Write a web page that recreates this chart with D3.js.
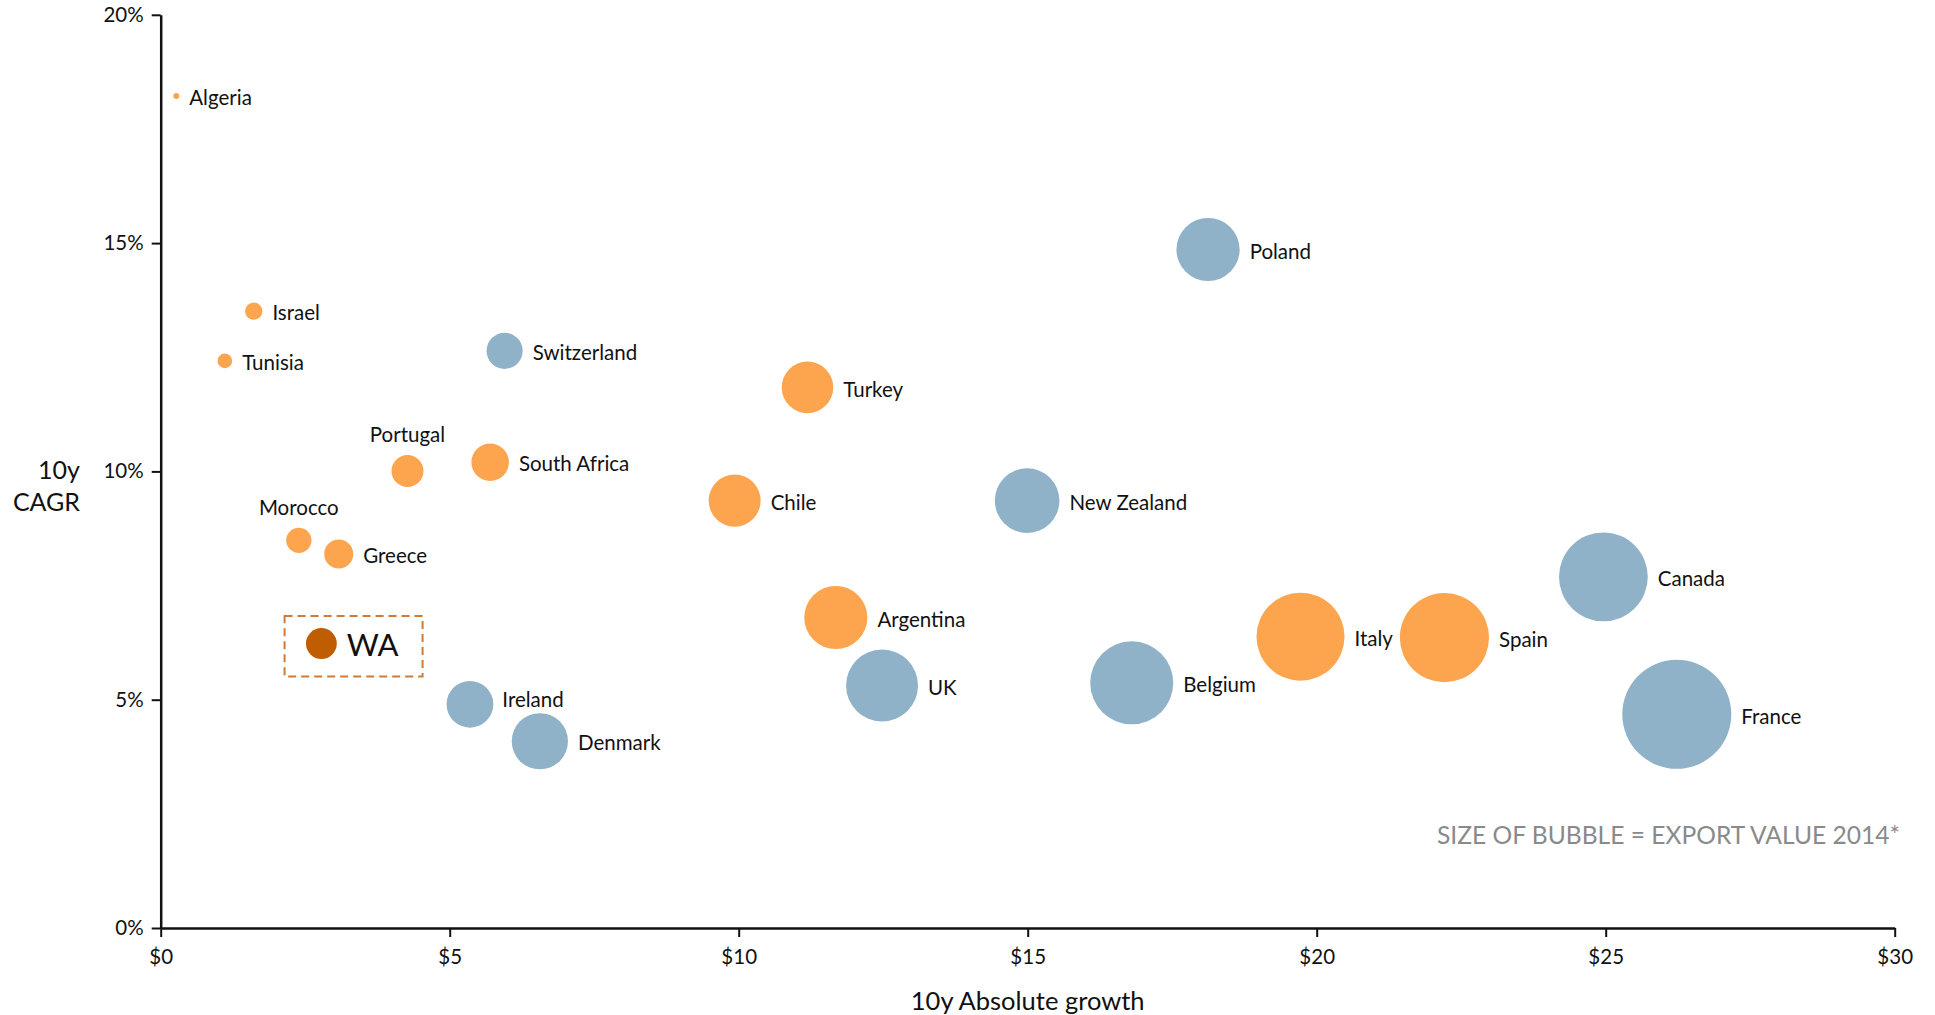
<!DOCTYPE html>
<html>
<head>
<meta charset="utf-8">
<script src="https://cdn.jsdelivr.net/npm/d3@7"></script>
<style>
  html, body { margin: 0; padding: 0; background: #fff; }
  svg { display: block; font-family: Lato, "Open Sans", sans-serif; }
</style>
</head>
<body>
<svg id="chart" width="1935" height="1015"></svg>
<script>
// ---------------- data ----------------
const countries = ["Algeria","Israel","Tunisia","Switzerland","Portugal","South Africa","Morocco","Greece","WA","Ireland","Denmark","Turkey","Chile","New Zealand","Argentina","UK","Belgium","Poland","Italy","Spain","Canada","France"];
const absGrowth = [0.27,1.61,1.11,5.95,4.27,5.70,2.39,3.08,2.78,5.35,6.56,11.19,9.93,14.99,11.68,12.48,16.80,18.12,19.72,22.21,24.96,26.23];
const cagr      = [18.22,13.51,12.42,12.64,10.01,10.20,8.49,8.19,6.23,4.90,4.09,11.84,9.36,9.36,6.80,5.31,5.37,14.86,6.38,6.36,7.69,4.68];
const exportValue = [0.03,0.25,0.18,1.10,0.86,1.18,0.54,0.71,0.80,1.84,2.66,2.24,2.28,3.51,3.36,4.36,5.80,3.36,6.52,6.70,6.64,10.0];
const group = ["old","old","old","new","old","old","old","old","wa","new","new","old","old","new","old","new","new","new","old","old","new","new"];
const labelSide = ["right","right","right","right","top","right","top","right","right","rightUp","right","right","right","right","right","right","right","right","right","right","right","right"];
const xTicks = [0,5,10,15,20,25,30];
const yTicks = [0,5,10,15,20];
const xTitle = "10y Absolute growth";
const yTitle = ["10y","CAGR"];
const legendText = "SIZE OF BUBBLE = EXPORT VALUE 2014*";

const colors = { old: "#fda44e", new: "#8fb2c9", wa: "#be5d02" };

// ---------------- layout ----------------
const svg = d3.select("#chart");
const x = d3.scaleLinear().domain([0,30]).range([160.7,1894.7]);
const y = d3.scaleLinear().domain([0,20]).range([928,14.8]);
const r = d3.scaleSqrt().domain([0,10]).range([0,54.5]);

const data = countries.map((c,i)=>({name:c,x:absGrowth[i],y:cagr[i],v:exportValue[i],g:group[i],side:labelSide[i]}));

// axes
const xAxis = d3.axisBottom(x).tickValues(xTicks).tickSize(9).tickSizeOuter(0).tickPadding(12)
  .tickFormat(d=>"$"+d);
const yAxis = d3.axisLeft(y).tickValues(yTicks).tickSize(9).tickSizeOuter(0).tickPadding(8)
  .tickFormat(d=>d+"%");

const gx = svg.append("g").attr("transform",`translate(0,${y(0)})`).call(xAxis);
const gy = svg.append("g").attr("transform",`translate(${x(0)},0)`).call(yAxis);
[gx,gy].forEach(g=>{
  g.select(".domain").attr("stroke","#111").attr("stroke-width",2.5);
  g.selectAll(".tick line").attr("stroke","#111").attr("stroke-width",2);
  g.selectAll(".tick text").attr("fill","#111").style("font-size","20.5px").style("font-family","Lato, sans-serif");
});

// axis titles
svg.append("text").attr("x",(x(0)+x(30))/2).attr("y",1010)
  .attr("text-anchor","middle").style("font-size","25.5px").attr("fill","#111").text(xTitle);
svg.append("text").attr("text-anchor","end").style("font-size","25px").attr("fill","#111")
  .selectAll("tspan").data(yTitle).join("tspan")
  .attr("x",80).attr("y",(d,i)=>479+i*32).text(d=>d);

// legend note
svg.append("text").attr("x",1900).attr("y",844).attr("text-anchor","end")
  .style("font-size","24.6px").attr("fill","#8a8a8a").text(legendText);

// bubbles (draw largest first)
const sorted = data.slice().sort((a,b)=>b.v-a.v);
svg.append("g").selectAll("circle").data(sorted).join("circle")
  .attr("cx",d=>x(d.x)).attr("cy",d=>y(d.y)).attr("r",d=>r(d.v))
  .attr("fill",d=>colors[d.g]);

// labels
svg.append("g").selectAll("text").data(data.filter(d=>d.g!=="wa")).join("text")
  .style("font-size","20.5px").attr("fill","#111")
  .text(d=>d.name)
  .each(function(d){
    const t = d3.select(this), cx = x(d.x), cy = y(d.y), rr = r(d.v);
    if (d.side==="top") {
      t.attr("x",cx).attr("y",cy-rr-13).attr("text-anchor","middle");
    } else if (d.side==="rightUp") {
      t.attr("x",cx+rr+9).attr("y",cy-6).attr("dy","0.45em");
    } else {
      t.attr("x",cx+rr+10).attr("y",cy).attr("dy","0.45em");
    }
  });

// WA highlight
const wa = data.find(d=>d.g==="wa");
const waX = x(wa.x), waY = y(wa.y), waR = r(wa.v);
svg.append("rect")
  .attr("x",waX-36.8).attr("y",waY-27.6).attr("width",138).attr("height",60.6)
  .attr("fill","none").attr("stroke","#cf7a35").attr("stroke-width",2)
  .attr("stroke-dasharray","8,5");
svg.append("text").attr("x",waX+waR+10).attr("y",waY).attr("dy","0.4em")
  .style("font-size","31px").attr("fill","#111").text(wa.name);
</script>
</body>
</html>
